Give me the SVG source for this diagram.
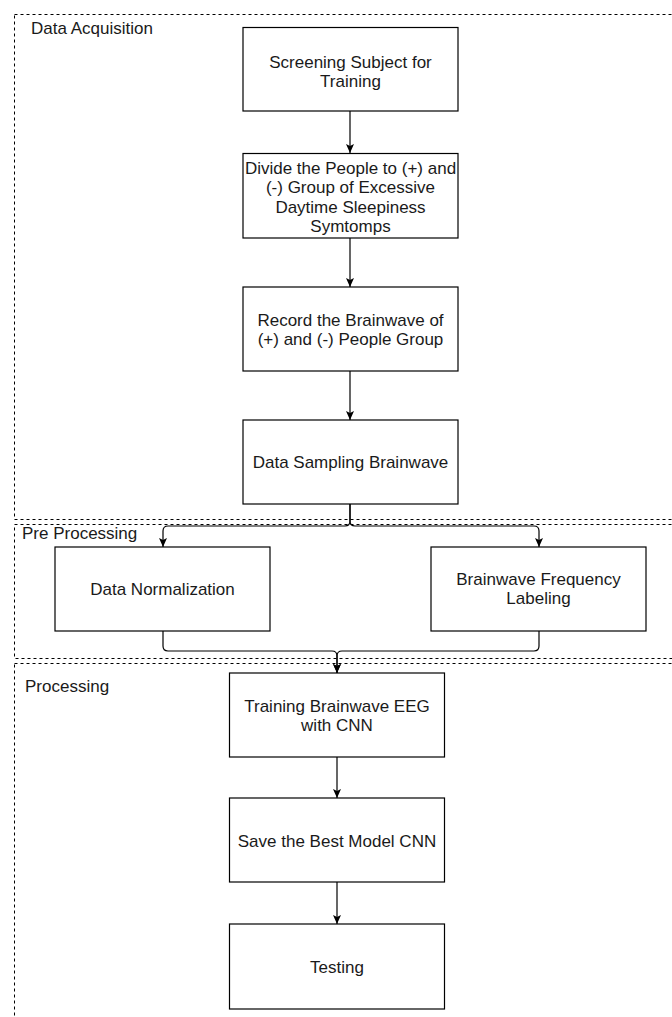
<svg xmlns="http://www.w3.org/2000/svg" width="672" height="1017" viewBox="0 0 672 1017">
<defs>
<style>
.lane{fill:none;stroke:#000;stroke-width:1;stroke-dasharray:3 3}
.box{fill:#fff;stroke:#000;stroke-width:1.2}
.t{font-family:"Liberation Sans",Arial,sans-serif;font-size:17px;fill:#1a1a1a;text-anchor:middle}
.lt{font-family:"Liberation Sans",Arial,sans-serif;font-size:17px;fill:#1a1a1a}
.c{fill:none;stroke:#000;stroke-width:1.2}
</style>
<marker id="ah" markerUnits="userSpaceOnUse" markerWidth="12" markerHeight="12" viewBox="0 0 12 12" refX="10" refY="6" orient="auto">
<path d="M1,2 L10,6 L1,10 L3,6 Z" fill="#000"/>
</marker>
</defs>
<g id="lanes">
<rect class="lane" x="14.5" y="14.5" width="700" height="505"/>
<rect class="lane" x="14.5" y="524.5" width="700" height="134"/>
<rect class="lane" x="14.5" y="663.5" width="700" height="400"/>
<text class="lt" x="31" y="34">Data Acquisition</text>
<text class="lt" x="22" y="539">Pre Processing</text>
<text class="lt" x="25" y="692">Processing</text>
</g>
<g id="connectors">
<path class="c" d="M350,111 V153" marker-end="url(#ah)"/>
<path class="c" d="M350,238 V287" marker-end="url(#ah)"/>
<path class="c" d="M350,371 V420" marker-end="url(#ah)"/>
<path class="c" d="M350,504 V521 Q350,526 345,526 H168 Q163,526 163,531 V547" marker-end="url(#ah)"/>
<path class="c" d="M350,504 V521 Q350,526 355,526 H534 Q539,526 539,531 V547" marker-end="url(#ah)"/>
<path class="c" d="M163,631 V646 Q163,651 168,651 H332 Q337,651 337,656 V673" marker-end="url(#ah)"/>
<path class="c" d="M539,631 V646 Q539,651 534,651 H342 Q337,651 337,656 V673" marker-end="url(#ah)"/>
<path class="c" d="M337,757 V798" marker-end="url(#ah)"/>
<path class="c" d="M337,882 V924" marker-end="url(#ah)"/>
</g>
<g id="n1"><rect class="box" x="243" y="27.5" width="215" height="83.5"/>
<text class="t" x="350.5" y="67.5">Screening Subject for</text><text class="t" x="350.5" y="86.8">Training</text></g>
<g id="n2"><rect class="box" x="243" y="153.5" width="215" height="84.5"/>
<text class="t" x="350.5" y="174">Divide the People to (+) and</text><text class="t" x="350.5" y="193.3">(-) Group of Excessive</text><text class="t" x="350.5" y="212.6">Daytime Sleepiness</text><text class="t" x="350.5" y="231.9">Symtomps</text></g>
<g id="n3"><rect class="box" x="243" y="287" width="215" height="84"/>
<text class="t" x="350.5" y="325.5">Record the Brainwave of</text><text class="t" x="350.5" y="344.8">(+) and (-) People Group</text></g>
<g id="n4"><rect class="box" x="243" y="420" width="215" height="84"/>
<text class="t" x="350.5" y="468">Data Sampling Brainwave</text></g>
<g id="n5"><rect class="box" x="55" y="547" width="215" height="84"/>
<text class="t" x="162.5" y="595">Data Normalization</text></g>
<g id="n6"><rect class="box" x="431" y="547" width="215" height="84"/>
<text class="t" x="538.5" y="585">Brainwave Frequency</text><text class="t" x="538.5" y="604.3">Labeling</text></g>
<g id="n7"><rect class="box" x="229.5" y="673" width="215" height="84"/>
<text class="t" x="337" y="711.5">Training Brainwave EEG</text><text class="t" x="337" y="730.8">with CNN</text></g>
<g id="n8"><rect class="box" x="229.5" y="798" width="215" height="84"/>
<text class="t" x="337" y="847">Save the Best Model CNN</text></g>
<g id="n9"><rect class="box" x="229.5" y="924" width="215" height="85"/>
<text class="t" x="337" y="972.5">Testing</text></g>
</svg>
